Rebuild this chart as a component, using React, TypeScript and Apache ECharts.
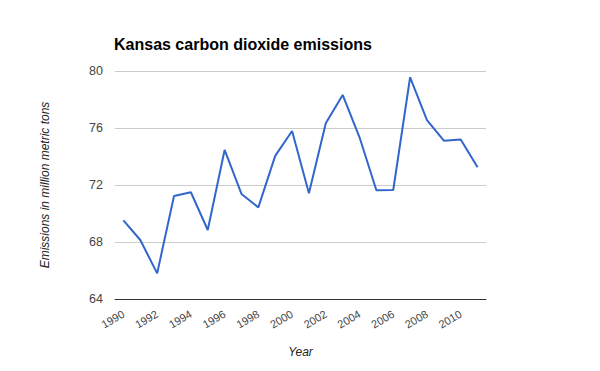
import React, { useEffect, useRef } from "react";
import * as echarts from "echarts";

const years = [
  "1990", "1991", "1992", "1993", "1994", "1995", "1996", "1997", "1998", "1999", "2000",
  "2001", "2002", "2003", "2004", "2005", "2006", "2007", "2008", "2009", "2010", "2011",
];
const emissions = [
  69.52, 68.14, 65.8, 71.23, 71.49, 68.84, 74.46, 71.37, 70.43, 74.04, 75.79,
  71.42, 76.33, 78.32, 75.35, 71.63, 71.65, 79.56, 76.56, 75.11, 75.2, 73.24,
];
const yTicks = [64, 68, 72, 76, 80];

const FONT = "'Liberation Sans', Arial, sans-serif";

export default function App() {
  const ref = useRef<HTMLDivElement>(null);
  useEffect(() => {
    if (!ref.current) return;
    const chart = echarts.init(ref.current, undefined, { renderer: "svg" });
    chart.setOption({
      animation: false,
      backgroundColor: "#ffffff",
      title: {
        text: "Kansas carbon dioxide emissions",
        left: 109,
        top: 31,
        textStyle: { fontFamily: FONT, fontSize: 16, fontWeight: "bold", color: "#000000" },
      },
      grid: { left: 115, right: 114, top: 71, bottom: 72 },
      xAxis: {
        type: "category",
        data: years,
        boundaryGap: true,
        name: "Year",
        nameLocation: "middle",
        nameGap: 47,
        nameTextStyle: { fontFamily: FONT, fontSize: 12, fontStyle: "italic", color: "#222222" },
        axisLine: { lineStyle: { color: "#333333", width: 1 } },
        axisTick: { show: false },
        axisLabel: {
          interval: 1,
          rotate: 30,
          margin: 14,
          fontFamily: FONT,
          fontSize: 11,
          color: "#444444",
        },
        splitLine: { show: false },
      },
      yAxis: {
        type: "value",
        min: yTicks[0],
        max: yTicks[yTicks.length - 1],
        interval: 4,
        name: "Emissions in million metric tons",
        nameLocation: "middle",
        nameGap: 64,
        nameTextStyle: { fontFamily: FONT, fontSize: 12, fontStyle: "italic", color: "#222222" },
        axisLine: { show: false },
        axisTick: { show: false },
        axisLabel: { margin: 12, fontFamily: FONT, fontSize: 12.5, color: "#444444" },
        splitLine: { lineStyle: { color: "#cccccc", width: 1 } },
      },
      series: [
        {
          type: "line",
          data: emissions,
          symbol: "none",
          lineStyle: { color: "#3366cc", width: 2 },
          itemStyle: { color: "#3366cc" },
        },
      ],
    });
    return () => chart.dispose();
  }, []);
  return <div ref={ref} style={{ width: 600, height: 371, margin: -8 }} />;
}
